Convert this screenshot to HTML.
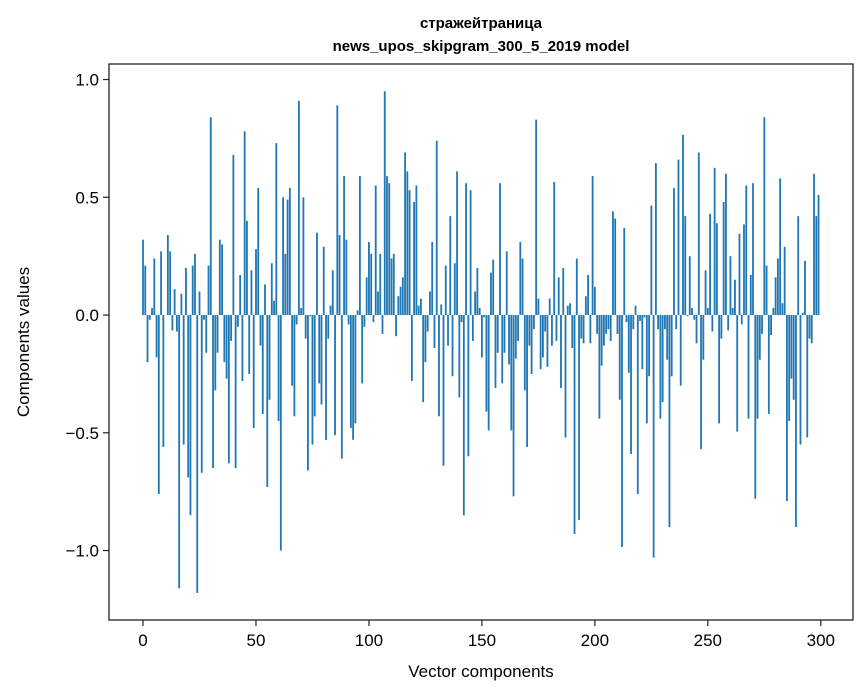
<!DOCTYPE html>
<html><head><meta charset="utf-8"><style>
body{margin:0;background:#fff;width:867px;height:696px;overflow:hidden;}
svg{display:block;font-family:"Liberation Sans","DejaVu Sans",sans-serif;}
</style></head><body>
<svg id="chart" width="867" height="696" xmlns="http://www.w3.org/2000/svg">
<rect width="867" height="696" fill="#fff"/>
<text x="481" y="28" text-anchor="middle" font-size="15" font-weight="bold">стражейтраница</text>
<text x="481" y="51" text-anchor="middle" font-size="15" font-weight="bold">news_upos_skipgram_300_5_2019 model</text>
<g id="bars"></g>
<g id="axes"></g>
<text x="481" y="677" text-anchor="middle" font-size="17">Vector components</text>
<text transform="translate(29,342) rotate(-90)" text-anchor="middle" font-size="17">Components values</text>
</svg>
<script>
const values = [
0.32,0.21,-0.20,-0.02,0.03,0.24,-0.18,-0.76,0.27,-0.56,
0.0,0.34,0.27,-0.065,0.11,-0.07,-1.16,0.09,-0.55,0.20,
-0.69,-0.85,0.21,0.26,-1.18,0.10,-0.67,-0.02,-0.16,0.21,
0.84,-0.65,-0.32,-0.16,0.32,0.30,-0.20,-0.27,-0.63,-0.11,
0.68,-0.65,-0.05,0.17,-0.28,0.78,0.40,-0.25,0.19,-0.48,
0.28,0.54,-0.13,-0.42,0.13,-0.73,-0.36,0.22,0.06,0.73,
-0.45,-1.00,0.50,0.26,0.49,0.54,-0.30,-0.43,-0.04,0.91,
0.03,0.50,-0.10,-0.66,-0.005,-0.55,-0.43,0.35,-0.29,-0.38,
0.29,-0.53,-0.10,0.04,0.19,-0.51,0.89,0.34,-0.61,0.59,
0.32,-0.04,-0.48,-0.53,-0.46,0.02,0.59,-0.29,-0.05,0.16,
0.31,0.26,-0.03,0.55,0.10,0.26,-0.08,0.95,0.59,0.56,
0.24,0.26,-0.09,0.08,0.12,0.16,0.69,0.61,0.53,-0.28,
0.48,0.55,0.04,0.07,-0.37,-0.20,-0.07,0.10,0.31,-0.14,
0.74,-0.43,0.045,-0.64,0.21,-0.13,0.42,-0.26,0.22,0.61,
-0.35,-0.03,-0.85,0.56,-0.60,0.53,-0.11,0.10,0.20,0.03,
-0.18,-0.01,-0.41,-0.49,0.18,0.235,-0.31,-0.16,0.56,-0.29,
-0.16,0.27,-0.21,-0.49,-0.77,-0.185,-0.11,0.31,0.24,-0.32,
-0.56,-0.13,-0.25,-0.06,0.83,0.07,-0.23,-0.18,-0.07,-0.22,
0.07,-0.13,0.565,-0.11,0.16,-0.31,0.20,-0.52,0.04,0.05,
-0.14,-0.93,0.24,-0.87,-0.10,-0.12,0.08,0.17,-0.12,0.59,
0.12,-0.08,-0.44,-0.215,-0.13,-0.08,-0.06,-0.11,0.44,0.41,
-0.08,-0.36,-0.985,0.37,-0.03,-0.245,-0.59,-0.06,0.04,-0.76,
-0.025,-0.23,-0.01,-0.46,-0.26,0.465,-1.03,0.645,-0.06,-0.44,
-0.37,-0.06,-0.19,-0.90,-0.26,0.54,-0.06,0.66,-0.30,0.765,
0.42,-0.005,0.25,0.03,-0.02,-0.12,0.69,-0.57,-0.19,0.19,
0.03,0.43,-0.07,0.625,0.39,-0.46,-0.10,0.48,0.60,-0.065,
0.25,0.03,0.15,-0.495,0.345,-0.04,0.385,0.55,-0.44,0.17,
0.56,-0.78,-0.44,-0.19,-0.08,0.84,0.21,-0.42,-0.085,0.03,
0.16,0.24,0.58,0.05,0.29,-0.79,-0.45,-0.27,-0.36,-0.90,
0.42,-0.55,0.01,0.23,-0.52,-0.10,-0.12,0.60,0.42,0.51
];
const xTicks = [0,50,100,150,200,250,300];
const yTicks = [-1.0,-0.5,0.0,0.5,1.0];
const yTickLabels = ["\u22121.0","\u22120.5","0.0","0.5","1.0"];

const NS="http://www.w3.org/2000/svg";
const L=109,R=853,T=64,B=620;
const xMin=-15.05,xMax=314.25,yMin=-1.295,yMax=1.066;
const sx=v=>L+(v-xMin)/(xMax-xMin)*(R-L);
const sy=v=>B-(v-yMin)/(yMax-yMin)*(B-T);
const barsG=document.getElementById('bars');
values.forEach((v,i)=>{
  const r=document.createElementNS(NS,'rect');
  const x0=sx(i-0.4),x1=sx(i+0.4);
  const y0=sy(Math.max(v,0)),y1=sy(Math.min(v,0));
  r.setAttribute('x',x0);r.setAttribute('width',x1-x0);
  r.setAttribute('y',y0);r.setAttribute('height',Math.max(y1-y0,0));
  r.setAttribute('fill','#1f77b4');
  
  
  barsG.appendChild(r);
});
const ax=document.getElementById('axes');
const frame=document.createElementNS(NS,'rect');
frame.setAttribute('x',L);frame.setAttribute('y',T);frame.setAttribute('width',R-L);frame.setAttribute('height',B-T);
frame.setAttribute('fill','none');frame.setAttribute('stroke','#222');frame.setAttribute('stroke-width','1.3');


ax.appendChild(frame);
xTicks.forEach(t=>{
  const x=sx(t);
  const ln=document.createElementNS(NS,'line');
  ln.setAttribute('x1',x);ln.setAttribute('x2',x);ln.setAttribute('y1',B);ln.setAttribute('y2',B+6);
  ln.setAttribute('stroke','#222');ln.setAttribute('stroke-width','1.2');
  
  
  ax.appendChild(ln);
  const tx=document.createElementNS(NS,'text');
  tx.setAttribute('x',x);tx.setAttribute('y',B+26);tx.setAttribute('text-anchor','middle');tx.setAttribute('font-size','17');
  tx.textContent=t;
  
  
  ax.appendChild(tx);
});
yTicks.forEach((t,i)=>{
  const y=sy(t);
  const ln=document.createElementNS(NS,'line');
  ln.setAttribute('x1',L-6);ln.setAttribute('x2',L);ln.setAttribute('y1',y);ln.setAttribute('y2',y);
  ln.setAttribute('stroke','#222');ln.setAttribute('stroke-width','1.2');
  
  
  ax.appendChild(ln);
  const tx=document.createElementNS(NS,'text');
  tx.setAttribute('x',L-10);tx.setAttribute('y',y+6);tx.setAttribute('text-anchor','end');tx.setAttribute('font-size','17');
  tx.textContent=yTickLabels[i];
  
  
  ax.appendChild(tx);
});
</script>
</body></html>
